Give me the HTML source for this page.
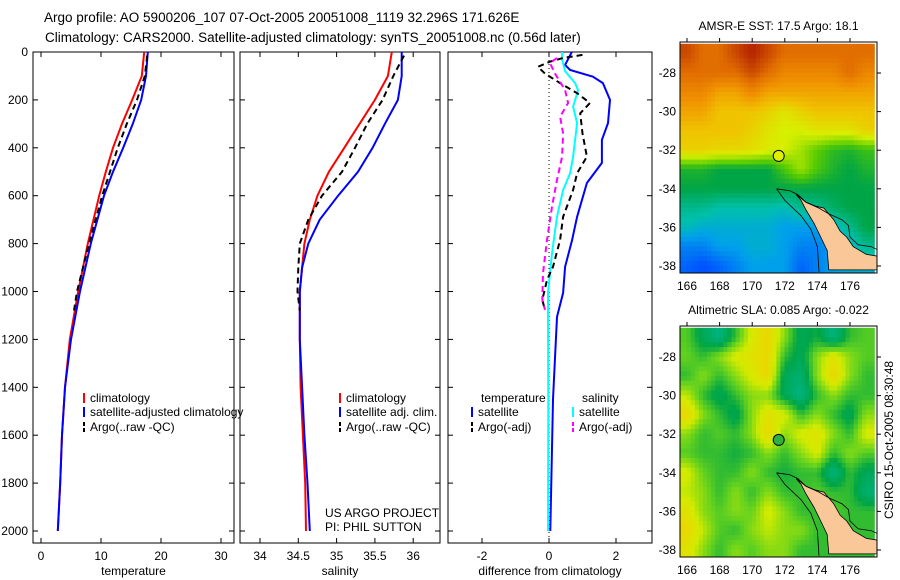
<!DOCTYPE html>
<html><head><meta charset="utf-8"><style>
html,body{margin:0;padding:0;background:#fff;}
svg{display:block;font-family:"Liberation Sans",sans-serif;}
</style></head><body>
<svg id="c" width="900" height="580" viewBox="0 0 900 580">
<text x="44" y="22" font-size="13.5">Argo profile: AO 5900206_107 07-Oct-2005 20051008_1119 32.296S 171.626E</text>
<text x="45" y="42" font-size="13.5">Climatology: CARS2000. Satellite-adjusted climatology: synTS_20051008.nc (0.56d later)</text>
</svg>
<script>
// ---------- data ----------
const depthLevels=[0,100,200,300,400,500,600,800,1000,1200,1400,1600,1800,2000];
const tempClim=[17.2,16.8,15.2,13.5,12,10.8,9.7,7.8,6.2,4.8,4.0,3.5,3.2,2.8];
const tempSat=[17.8,17.5,16.7,15.3,13.7,12,10.5,8.3,6.5,5.0,4.0,3.5,3.2,2.8];
const argoDepth=[15,100,200,300,400,500,600,800,1000,1080];
const tempArgo=[17.7,17.3,16.0,14.3,12.8,11.5,10.2,8.0,6.0,5.5];
const salDepth=[0,100,200,300,400,500,600,700,800,900,1000,1200,1400,1600,1800,2000];
const salClim=[35.72,35.67,35.5,35.3,35.1,34.9,34.75,34.65,34.58,34.55,34.52,34.52,34.53,34.56,34.59,34.6];
const salSat=[35.85,35.85,35.8,35.63,35.47,35.28,35.02,34.78,34.63,34.55,34.52,34.52,34.55,34.58,34.62,34.65];
const salArgoDepth=[15,100,200,300,400,500,600,700,800,900,1000,1080];
const salArgo=[35.88,35.74,35.6,35.4,35.24,35.07,34.81,34.63,34.52,34.5,34.49,34.52];
const dTsatDepth=[0,54,75,103,130,200,297,367,463,547,688,785,897,1006,1106,1450,2000];
const dTsat=[0.68,0.48,0.63,1.31,1.61,1.82,1.76,1.58,1.58,1.13,0.84,0.69,0.48,0.42,0.24,0.12,0.04];
const dSsatDepth=[0,30,80,130,160,228,297,437,506,576,688,840,1006,1106,1500,2000];
const dSsat=[0.39,0.39,0.48,0.78,0.87,0.72,0.84,0.72,0.63,0.42,0.24,0.09,-0.03,-0.03,-0.02,-0.03];
const dTargoDepth=[12,25,40,62,90,130,172,213,256,340,437,506,576,688,785,897,952,1035,1077];
const dTargo=[1.0,0.42,0.03,-0.33,-0.12,0.33,0.84,1.22,0.93,1.0,1.13,0.84,0.72,0.42,0.33,0.12,-0.06,-0.2,-0.12];
const dSargoDepth=[25,46,90,159,213,270,340,437,534,646,785,924,1035,1077];
const dSargo=[0.24,0.03,0.18,0.48,0.57,0.33,0.42,0.39,0.24,0.09,-0.06,-0.18,-0.2,-0.12];
const depthTicks=[0,200,400,600,800,1000,1200,1400,1600,1800,2000];
const tempTicks=[0,10,20,30];
const salTicks=[34,34.5,35,35.5,36];
const diffTicks=[-2,0,2];
const lonTicks=[166,168,170,172,174,176];
const latTicks=[-28,-30,-32,-34,-36,-38];
const sstGrid=[
[21,20.5,20.5,21,21.5,21,20.5,20.5,20.5,20.5,20.5,20.5],
[20.5,20.5,20.5,20.5,21,20.5,20,20,20,20,20.5,20],
[20,20,19.5,19.5,20,19.5,19.5,19.5,19.5,19.5,19.5,19.5],
[19.5,19.5,19,19,19,18.8,18.5,18.8,19,19,19,19],
[19,19,19,19,18.8,18.5,18.3,18.3,18.5,18.5,18.5,18.8],
[18.8,18.8,18.7,18.7,18.6,18.4,18.3,18,17.6,17.3,17.2,17.4],
[17.2,17.2,17,17,17,17,17.5,18,17.5,17.2,17,17.2],
[17,17,17,17,17,17,17,17,17,17,17,17],
[16.5,16.5,16.3,16.3,16.3,16.3,16.2,16.5,16.5,16.8,17,17],
[16.2,16,16,16,16,16,15.8,15.8,15.8,16,16.5,17],
[15.5,15.5,15.8,15.8,16,16,15.8,15.5,15.5,15.8,16,16.5],
[15.2,15,15.2,15.5,15.8,15.8,15.8,15.2,15.5,15.8,16,16]];
const slaGrid=[
[.02,-.05,-.1,0,.1,.15,.05,-.05,-.02,-.1,0,.02],
[.03,0,.05,.1,.12,.15,0,-.05,.05,.12,.05,.02],
[0,.05,0,.05,.1,.15,-.05,-.08,.05,.15,.05,0],
[.08,0,-.05,0,.05,.05,-.05,-.1,0,.05,0,0],
[.15,.05,0,-.05,.05,.12,.1,0,.05,0,-.05,.05],
[.05,0,.02,0,.05,.15,.05,.1,.12,.05,0,.1],
[.02,0,0,-.02,0,.05,0,.05,.1,0,.05,.02],
[.1,.03,0,0,.05,0,-.02,0,0,-.1,0,-.05],
[.08,.05,0,.05,0,.05,0,0,.02,0,0,-.08],
[.12,.05,.02,.05,.03,.1,.05,0,0,.02,0,0],
[.15,.08,.02,0,.05,.08,.05,.05,0,0,0,0],
[.12,.05,0,.05,.02,.05,.05,0,0,0,0,0]];
const landLon=[172.7,173.3,173.9,174.4,175,175.4,175.8,176.2,177,177.8,177.8,174.7,174.6,174.2,173.8,173.3,173];
const landLat=[-34.3,-34.7,-34.9,-35.0,-35.6,-36.2,-36.5,-37.0,-37.4,-37.5,-38.2,-38.2,-37.2,-36.5,-35.8,-35.1,-34.6];
const argoLon=171.626, argoLat=-32.296;

// ---------- helpers ----------
const NS="http://www.w3.org/2000/svg";
const svg=document.getElementById('c');
function mk(tag,attrs,parent){const e=document.createElementNS(NS,tag);for(const k in attrs)e.setAttribute(k,attrs[k]);(parent||svg).appendChild(e);return e;}
const Y0=52,YK=0.2395,PB=543;
const yD=d=>Y0+d*YK;
const panels=[
 {x0:33,x1:234,sx:v=>41+6*v,ticks:tempTicks,lab:'temperature'},
 {x0:240,x1:440,sx:v=>260+(v-34)*76.6,ticks:salTicks,lab:'salinity'},
 {x0:448,x1:652,sx:v=>549+v*33.5,ticks:diffTicks,lab:'difference from climatology'}];
panels.forEach((p,i)=>{
 const r=mk('rect',{x:p.x0,y:Y0,width:p.x1-p.x0,height:PB-Y0,fill:'none',stroke:'#000','stroke-width':1});
 
 
 p.ticks.forEach(t=>{const x=p.sx(t);
  mk('line',{x1:x,x2:x,y1:PB,y2:PB-5,stroke:'#000'});mk('line',{x1:x,x2:x,y1:Y0,y2:Y0+5,stroke:'#000'});
  const tx=mk('text',{x:x,y:PB+17,'font-size':12,'text-anchor':'middle'});tx.textContent=String(t);
  
  });
 depthTicks.forEach(d=>{const y=yD(d);
  mk('line',{x1:p.x0,x2:p.x0+5,y1:y,y2:y,stroke:'#000'});mk('line',{x1:p.x1,x2:p.x1-5,y1:y,y2:y,stroke:'#000'});});
 const xl=mk('text',{x:(p.x0+p.x1)/2,y:575,'font-size':12,'text-anchor':'middle'});xl.textContent=p.lab;
 
 
});
depthTicks.forEach(d=>{const t=mk('text',{x:28,y:yD(d)+4,'font-size':12,'text-anchor':'end'});t.textContent=String(d);
 
 });
mk('line',{x1:549,x2:549,y1:Y0,y2:PB,stroke:'#000','stroke-dasharray':'1,3'});
function line(p,vals,deps,color,dash,name){
 const pts=vals.map((v,i)=>p.sx(v).toFixed(1)+','+yD(deps[i]).toFixed(1)).join(' ');
 const l=mk('polyline',{points:pts,fill:'none',stroke:color,'stroke-width':2,'stroke-dasharray':dash||'none'});
 
 
}
const [P1,P2,P3]=panels;
line(P1,tempClim,depthLevels,'#f00',null,'temp-climatology-line');
line(P1,tempSat,depthLevels,'#00f',null,'temp-satellite-line');
line(P1,tempArgo,argoDepth,'#000','6,4','temp-argo-line');
line(P2,salClim,salDepth,'#f00',null,'sal-climatology-line');
line(P2,salSat,salDepth,'#00f',null,'sal-satellite-line');
line(P2,salArgo,salArgoDepth,'#000','6,4','sal-argo-line');
line(P3,dTsat,dTsatDepth,'#00f',null,'diff-temp-satellite-line');
line(P3,dSsat,dSsatDepth,'#0ff',null,'diff-sal-satellite-line');
line(P3,dTargo,dTargoDepth,'#000','6,4','diff-temp-argo-line');
line(P3,dSargo,dSargoDepth,'#f0f','6,4','diff-sal-argo-line');
function leg(x,y,color,txt,dash,name){
 mk('line',{x1:x,x2:x,y1:y-9,y2:y+1,stroke:color,'stroke-width':2,'stroke-dasharray':dash||'none'});
 const t=mk('text',{x:x+6,y:y,'font-size':12});t.textContent=txt;
 
 
}
leg(84,402,'#f00','climatology',null,'legend-entry-climatology');
leg(84,416,'#00f','satellite-adjusted climatology',null,'legend-entry-satellite');
leg(84,431,'#000','Argo(..raw -QC)','4,2','legend-entry-argo');
leg(340,402,'#f00','climatology',null,'legend-entry-climatology-2');
leg(340,416,'#00f','satellite adj. clim.',null,'legend-entry-satellite-2');
leg(340,431,'#000','Argo(..raw -QC)','4,2','legend-entry-argo-2');
{const t=mk('text',{x:481,y:402,'font-size':12});t.textContent='temperature';
 
 
 const s=mk('text',{x:582,y:402,'font-size':12});s.textContent='salinity';
 
 }
leg(472,416,'#00f','satellite',null,'legend-entry-temp-satellite');
leg(472,431,'#000','Argo(-adj)','4,2','legend-entry-temp-argo');
leg(573,416,'#0ff','satellite',null,'legend-entry-sal-satellite');
leg(573,431,'#f0f','Argo(-adj)','4,2','legend-entry-sal-argo');
{const a=mk('text',{x:325,y:517,'font-size':12});a.textContent='US ARGO PROJECT';
 
 
 const b=mk('text',{x:325,y:531,'font-size':12});b.textContent='PI: PHIL SUTTON';
 
 }

// ---------- maps ----------
function rgb(c){return 'rgb('+c.map(Math.round).join(',')+')';}
function lerpC(stops,v){
 if(v<=stops[0][0])return rgb(stops[0][1]);
 for(let i=1;i<stops.length;i++){if(v<=stops[i][0]){const a=stops[i-1],b=stops[i],f=(v-a[0])/(b[0]-a[0]);
  return rgb(a[1].map((c,k)=>c+(b[1][k]-c)*f));}}
 return rgb(stops[stops.length-1][1]);}
const sstStops=[[15,[0,80,255]],[15.8,[0,160,235]],[16.3,[0,192,170]],[17,[0,165,70]],[17.6,[90,205,0]],[18.3,[215,240,0]],[19,[240,195,0]],[19.8,[240,145,0]],[20.5,[225,110,0]],[21.5,[180,35,0]]];
const slaStops=[[-0.1,[0,180,130]],[-0.03,[0,165,70]],[0.03,[100,210,30]],[0.09,[210,235,0]],[0.15,[235,215,0]]];
function sample(grid,fr,fc){
 const R=grid.length-1,C=grid[0].length-1;
 fr=Math.max(0,Math.min(R,fr));fc=Math.max(0,Math.min(C,fc));
 const r0=Math.floor(fr),c0=Math.floor(fc),r1=Math.min(R,r0+1),c1=Math.min(C,c0+1),a=fr-r0,b=fc-c0;
 return grid[r0][c0]*(1-a)*(1-b)+grid[r0][c1]*(1-a)*b+grid[r1][c0]*a*(1-b)+grid[r1][c1]*a*b;}
function map(y0,y1,grid,stops,circFill,title,nm){
 const x0=680,x1=877;
 const lx=lon=>687+(lon-166)*16.3;
 const ly=lat=>73+(-28-lat)*19.3;
 const g=mk('g',{});
 
 
 const cp=mk('clipPath',{id:'cp'+nm},g);mk('rect',{x:x0,y:y0,width:x1-x0,height:y1-y0},cp);
 const inner=mk('g',{'clip-path':'url(#cp'+nm+')'},g);
 const off=y0-42;
 const N=4;
 grid.forEach((row,r)=>row.forEach((v,c)=>{
  for(let i=0;i<N;i++)for(let j=0;j<N;j++){
   const fr=r-0.5+(i+0.5)/N, fc=c-0.5+(j+0.5)/N;
   const lon=165.5+c+(j)/N, lat=-26.5-r-(i)/N;
   const cell=mk('rect',{x:(lx(lon)-0.3).toFixed(1),y:(ly(lat)+off-0.3).toFixed(1),width:(16.3/N+0.6).toFixed(1),height:(19.3/N+0.6).toFixed(1),fill:lerpC(stops,sample(grid,fr,fc))},inner);
   
   
  }
 }));
 const pts=landLon.map((l,i)=>lx(l).toFixed(1)+','+(ly(landLat[i])+off).toFixed(1)).join(' ');
 const land=mk('polygon',{points:pts,fill:'#fac898',stroke:'#000','stroke-width':0.8},inner);
 
 
 const c1=[[171.5,-34],[172.3,-34.1],[172.8,-34.3],[173.3,-34.7],[174.1,-35],[174.7,-35.3],[175.5,-35.6],[175.9,-35.9],[176,-36.5],[176.5,-36.9],[177.3,-37],[177.8,-37.2]];
 const c2=[[171.5,-34],[172,-34.6],[173,-35.4],[173.6,-36.1],[174,-37],[174.1,-38.3]];
 [c1,c2].forEach(c=>{mk('polyline',{points:c.map(p=>lx(p[0]).toFixed(1)+','+(ly(p[1])+off).toFixed(1)).join(' '),fill:'none',stroke:'#000','stroke-width':0.8},inner);});
 const ci=mk('circle',{cx:lx(argoLon),cy:ly(argoLat)+off,r:5.5,fill:circFill,stroke:'#000','stroke-width':1},g);
 
 
 mk('rect',{x:x0,y:y0,width:x1-x0,height:y1-y0,fill:'none',stroke:'#000'},g);
 lonTicks.forEach(l=>{const x=lx(l);mk('line',{x1:x,x2:x,y1:y0,y2:y0-4,stroke:'#000'},g);
  const t=mk('text',{x:x,y:y1+17,'font-size':12,'text-anchor':'middle'},g);t.textContent=String(l);
  
  });
 latTicks.forEach(l=>{const y=ly(l)+off;mk('line',{x1:x1,x2:x1+4,y1:y,y2:y,stroke:'#000'},g);
  const t=mk('text',{x:x0-4,y:y+4,'font-size':12,'text-anchor':'end'},g);t.textContent=String(l);
  
  });
 const tt=mk('text',{x:(x0+x1)/2,y:y0-12,'font-size':12,'text-anchor':'middle'},g);tt.textContent=title;
 
 
}
map(42,273,sstGrid,sstStops,'#e0f000','AMSR-E SST: 17.5 Argo: 18.1','sst-map');
map(326,557,slaGrid,slaStops,'#30b040','Altimetric SLA: 0.085 Argo: -0.022','sla-map');
{const t=mk('text',{x:0,y:0,'font-size':12,'text-anchor':'middle',transform:'translate(893,440) rotate(-90)'});
 t.textContent='CSIRO 15-Oct-2005 08:30:48';
 
 }
</script>
</body></html>
